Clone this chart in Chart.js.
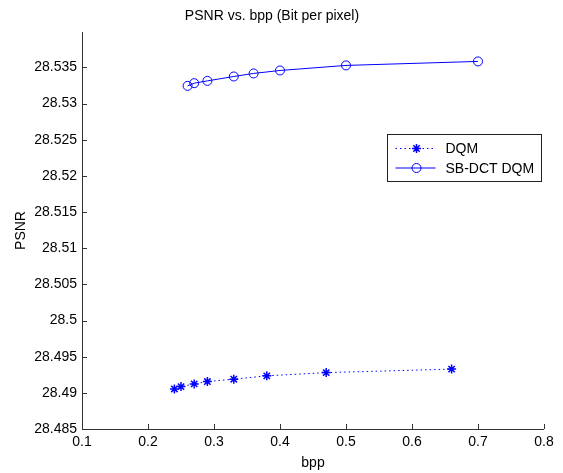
<!DOCTYPE html>
<html>
<head>
<meta charset="utf-8">
<script src="https://cdn.jsdelivr.net/npm/chart.js@4"></script>
<style>
    body { margin: 0; background: #fff; }
    #wrap { width: 563px; height: 473px; }
</style>
</head>
<body>
<div id="wrap"><canvas id="psnrChart" width="563" height="473"></canvas></div>
<script>
// values
const dqmBpp = [0.24, 0.25, 0.27, 0.29, 0.33, 0.38, 0.47, 0.66];
const dqmPsnr = [28.49054, 28.49086, 28.49124, 28.49156, 28.49189, 28.49235, 28.4928, 28.49328];

const sbBpp = [0.26, 0.27, 0.29, 0.33, 0.36, 0.40, 0.50, 0.70];
const sbPsnr = [28.53245, 28.53282, 28.53314, 28.53375, 28.53417, 28.53458, 28.53528, 28.53583];

const seriesNames = ["DQM", "SB-DCT DQM"];

const FONT = "'Liberation Sans', Arial, sans-serif";

function toPoints(xs, ys) {
    return xs.map((x, i) => ({ x: x, y: ys[i] }));
}

// axis lines with inward tick marks + legend box inside the plot
const axesPlugin = {
    id: "axesPlugin",
    afterDraw(chart) {
        const ctx = chart.ctx;
        const x = chart.scales.x;
        const y = chart.scales.y;
        const a = chart.chartArea;
        ctx.save();
        ctx.strokeStyle = "#333";
        ctx.lineWidth = 1;
        ctx.beginPath();
        ctx.moveTo(a.left + 0.5, a.top);
        ctx.lineTo(a.left + 0.5, a.bottom + 0.5);
        ctx.lineTo(a.right, a.bottom + 0.5);
        x.ticks.forEach(t => {
            const px = Math.round(x.getPixelForValue(t.value)) + 0.5;
            ctx.moveTo(px, a.bottom);
            ctx.lineTo(px, a.bottom - 5);
        });
        y.ticks.forEach(t => {
            const py = Math.round(y.getPixelForValue(t.value)) + 0.5;
            ctx.moveTo(a.left, py);
            ctx.lineTo(a.left + 5, py);
        });
        ctx.stroke();

        // legend
        const bx = 387.5, by = 134.5, bw = 154, bh = 47;
        ctx.fillStyle = "#fff";
        ctx.fillRect(bx, by, bw, bh);
        ctx.strokeStyle = "#222";
        ctx.strokeRect(bx, by, bw, bh);
        ctx.font = "14px " + FONT;
        ctx.textBaseline = "middle";
        chart.data.datasets.forEach((ds, i) => {
            const ry = by + 14 + i * 19.5;
            ctx.strokeStyle = ds.borderColor;
            ctx.lineWidth = 1;
            ctx.setLineDash(ds.borderDash || []);
            ctx.beginPath();
            ctx.moveTo(bx + 8, ry);
            ctx.lineTo(bx + 48, ry);
            ctx.stroke();
            ctx.setLineDash([]);
            ctx.fillStyle = ds.backgroundColor;
            ctx.lineWidth = ds.pointBorderWidth;
            Chart.helpers.drawPoint(ctx, {
                pointStyle: ds.pointStyle,
                radius: ds.pointRadius,
                borderWidth: ds.pointBorderWidth
            }, bx + 29, ry);
            ctx.fillStyle = "#000";
            ctx.fillText(ds.label, bx + 58, ry + 1);
        });
        ctx.restore();
    }
};

const ctx = document.getElementById("psnrChart").getContext("2d");

new Chart(ctx, {
    type: "line",
    data: {
        datasets: [{
            label: seriesNames[0],
            data: toPoints(dqmBpp, dqmPsnr),
            borderColor: "#0000ff",
            backgroundColor: "#0000ff",
            borderWidth: 1,
            borderDash: [1.5, 3],
            pointStyle: "star",
            pointRadius: 4.5,
            pointBorderWidth: 1.5,
            tension: 0
        }, {
            label: seriesNames[1],
            data: toPoints(sbBpp, sbPsnr),
            borderColor: "#0000ff",
            backgroundColor: "rgba(0,0,0,0)",
            borderWidth: 1,
            pointStyle: "circle",
            pointRadius: 4.5,
            pointBorderWidth: 1,
            tension: 0
        }]
    },
    options: {
        responsive: false,
        animation: false,
        layout: { padding: { left: 0, right: 19, top: 0, bottom: 0 } },
        plugins: {
            legend: { display: false },
            tooltip: { enabled: false },
            title: {
                display: true,
                text: "PSNR vs. bpp (Bit per pixel)",
                color: "#000",
                font: { family: FONT, size: 14, weight: "normal" },
                padding: { top: 7.5, bottom: 7.7 }
            }
        },
        scales: {
            x: {
                type: "linear",
                min: 0.1,
                max: 0.8,
                ticks: {
                    stepSize: 0.1,
                    color: "#000",
                    font: { family: FONT, size: 14 },
                    padding: 5,
                    callback: v => Number(v.toFixed(1)).toString()
                },
                grid: { display: false, drawTicks: false },
                border: { display: false },
                title: {
                    display: true,
                    text: "bpp",
                    color: "#000",
                    font: { family: FONT, size: 14 },
                    padding: { top: 0, bottom: 1.6 }
                },
                afterFit: s => { s.height = 44; }
            },
            y: {
                type: "linear",
                min: 28.485,
                max: 28.5399,
                ticks: {
                    stepSize: 0.005,
                    includeBounds: false,
                    color: "#000",
                    font: { family: FONT, size: 14 },
                    padding: 5,
                    callback: v => Number(v.toFixed(3)).toString()
                },
                grid: { display: false, drawTicks: false },
                border: { display: false },
                title: {
                    display: true,
                    text: "PSNR",
                    color: "#000",
                    font: { family: FONT, size: 14 },
                    padding: { top: 13, bottom: 0 }
                },
                afterFit: s => { s.width = 82; }
            }
        }
    },
    plugins: [axesPlugin]
});
</script>
</body>
</html>
